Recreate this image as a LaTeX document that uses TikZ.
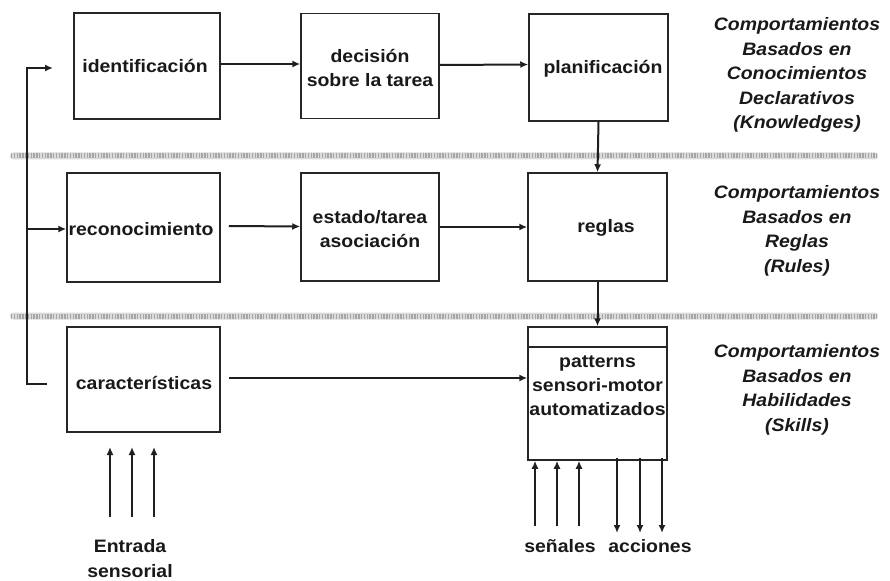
\documentclass[tikz,border=0pt]{standalone}
\usepackage{fontspec}
\setmainfont{Liberation Sans}[FakeStretch=1.08]
\usetikzlibrary{arrows.meta}

\begin{document}
\begin{tikzpicture}[x=1pt,y=-1pt,
  every node/.style={font=\fontsize{18}{24}\selectfont\bfseries, text=black!90},
  box/.style={draw=black!85, line width=1.5pt, align=center, inner sep=0pt},
  arr/.style={line width=2pt, draw=black!88, -{Latex[length=8pt,width=7pt]}},
  band/.style={line width=5pt, draw=gray!70, dash pattern=on 1.3pt off 1.5pt},
  side/.style={font=\fontsize{18}{24.5}\selectfont\bfseries\itshape, align=center},
  foot/.style={font=\fontsize{18}{25}\selectfont\bfseries, align=center}]

\useasboundingbox (0,0) rectangle (890,580);
\fill[white] (0,0) rectangle (890,580);

% hatched separators between the three behaviour levels
\foreach \yy in {156,316}{
  \fill[gray!28, rounded corners=3pt] (10,\yy-3.5) rectangle (878,\yy+3.5);
  \draw[band] (11,\yy) -- (877,\yy);
}

% knowledge level
\node[box, minimum width=146, minimum height=106] (ident) at (147,66) {};
\node (identlbl) at (145,66) {identificación};
\node[box, minimum width=138, minimum height=105] (dec) at (370,66) {};
\node[align=center] (declbl) at (370,67.5) {decisión\\sobre la tarea};
\node[box, minimum width=139, minimum height=107] (plan) at (598.5,67.5) {};
\node (planlbl) at (603,69) {planificación};

% rule level
\node[box, minimum width=153, minimum height=109] (rec) at (143.5,227.5) {};
\node (reclbl) at (141,229) {reconocimiento};
\node[box, minimum width=138, minimum height=108] (est) at (370,227) {};
\node[align=center] (estlbl) at (370,229.5) {estado/tarea\\asociación};
\node[box, minimum width=139, minimum height=108] (reg) at (597.5,227) {};
\node (reglbl) at (606,228) {reglas};

% skill level
\node[box, minimum width=153, minimum height=105] (car) at (143.5,379.5) {};
\node (carlbl) at (144,383) {características};
\node[box, minimum width=139, minimum height=133] (pat) at (597.5,393.5) {};
\draw[black!85, line width=1.5pt] (pat.north west |- 0,347) -- (pat.north east |- 0,347);
\node[align=center] (patlbl) at (597.5,386) {patterns\\sensori-motor\\automatizados};

% level captions
\node[side] (k1) at (797,75) {Comportamientos\\Basados en\\Conocimientos\\Declarativos\\(Knowledges)};
\node[side] (k2) at (797,231) {Comportamientos\\Basados en\\Reglas\\(Rules)};
\node[side] (k3) at (797,390) {Comportamientos\\Basados en\\Habilidades\\(Skills)};

% horizontal flow
\draw[arr] ([yshift=2pt]ident.east) -- ([yshift=2pt]ident.east -| dec.west);
\draw[arr] ([yshift=1pt]dec.east) -- ([yshift=3pt]plan.west);
\draw[arr] ([xshift=8pt,yshift=1.5pt]rec.east) -- ([yshift=0.5pt]est.west);
\draw[arr] (est.east) -- (reg.west);
\draw[arr] ([xshift=8pt,yshift=1.5pt]car.east) -- ([yshift=1.5pt]car.east -| pat.west);

% vertical flow
\draw[arr] (plan.south) -- (reg.north);
\draw[arr] (reg.south) -- (pat.north);

% feedback spine on the left
\coordinate (fbBot) at (47,384);
\coordinate (fbTop) at (53,68);
\coordinate (spine) at (27,229);
\draw[arr] (fbBot) -- (fbBot -| spine) -- (fbTop -| spine) -- (fbTop);
\draw[arr] (spine) -- (spine -| rec.west);

% sensory input
\node[foot] (ent) at (130,559) {Entrada\\sensorial};
\foreach \xx/\nm in {110/a,132/b,154/c}{
  \coordinate (in\nm) at (\xx,517);
  \coordinate (to\nm) at (\xx,447);
  \draw[arr] (in\nm) -- (to\nm);
}

% signals in, actions out
\node[foot] (sen) at (560,546) {señales};
\node[foot] (acc) at (650,546) {acciones};
\foreach \xx/\nm in {535/a,557/b,579/c}{
  \coordinate (sg\nm) at (\xx,526);
  \draw[arr] (sg\nm) -- (sg\nm |- pat.south);
}
\foreach \xx/\nm in {617/a,640/b,662/c}{
  \coordinate (ac\nm) at (\xx,533);
  \draw[arr] ([yshift=3pt]ac\nm |- pat.south) -- (ac\nm);
}
\end{tikzpicture}
\end{document}
